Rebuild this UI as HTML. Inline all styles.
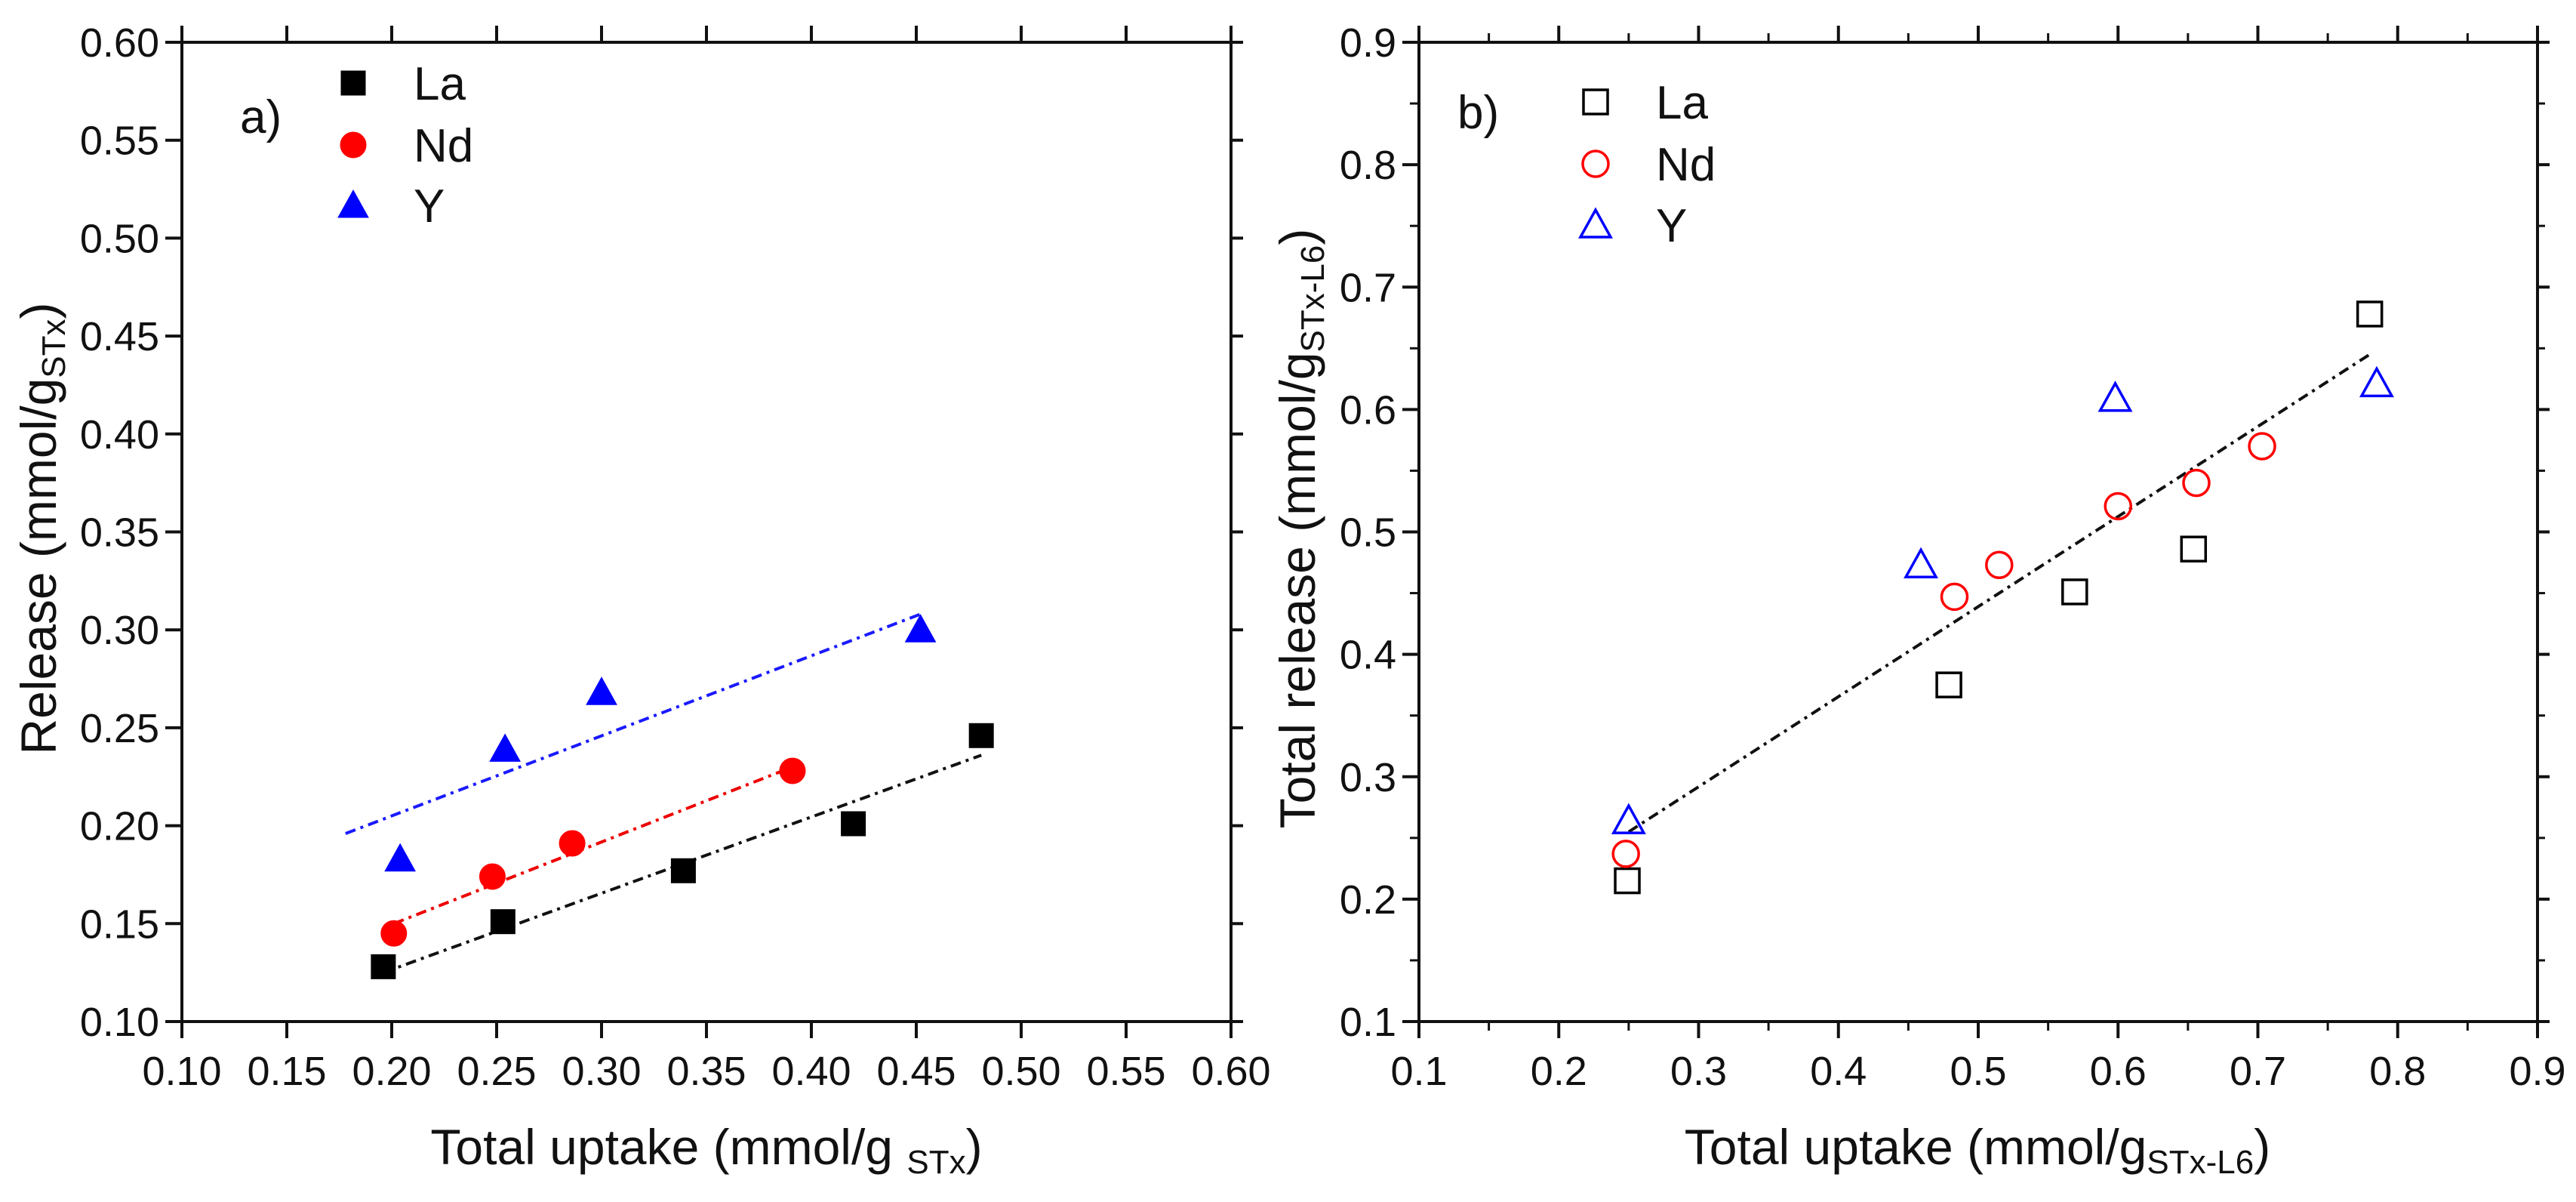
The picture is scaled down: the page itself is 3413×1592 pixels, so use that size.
<!DOCTYPE html>
<html><head><meta charset="utf-8"><style>
html,body{margin:0;padding:0;background:#fff;}
svg text{font-family:"Liberation Sans",Arial,sans-serif;fill:#111;}
</style></head><body>
<svg id="fig" xmlns="http://www.w3.org/2000/svg" width="3413" height="1587" viewBox="0 0 3413 1587"></svg>
<script>
// Panel a data
const aLaX=[0.196,0.253,0.339,0.420,0.481];
const aLaY=[0.128,0.151,0.177,0.201,0.246];
const aNdX=[0.201,0.248,0.286,0.391];
const aNdY=[0.145,0.174,0.191,0.228];
const aYX=[0.204,0.254,0.300,0.452];
const aYY=[0.183,0.239,0.268,0.300];
const aFitLaX=[0.196,0.481]; const aFitLaY=[0.125,0.236];
const aFitNdX=[0.201,0.391]; const aFitNdY=[0.150,0.230];
const aFitYX=[0.178,0.452]; const aFitYY=[0.196,0.308];
const aTicks=[0.10,0.15,0.20,0.25,0.30,0.35,0.40,0.45,0.50,0.55,0.60];
// Panel b data
const bLaX=[0.249,0.479,0.569,0.654,0.780];
const bLaY=[0.215,0.375,0.451,0.486,0.678];
const bNdX=[0.248,0.483,0.515,0.600,0.656,0.703];
const bNdY=[0.237,0.447,0.473,0.521,0.540,0.570];
const bYX=[0.250,0.459,0.598,0.785];
const bYY=[0.264,0.473,0.609,0.621];
const bFitX=[0.25,0.78]; const bFitY=[0.255,0.645];
const bTicks=[0.1,0.2,0.3,0.4,0.5,0.6,0.7,0.8,0.9];

const NS="http://www.w3.org/2000/svg";
const svg=document.getElementById('fig');
function mk(tag,attrs,parent){const e=document.createElementNS(NS,tag);for(const k in attrs)e.setAttribute(k,attrs[k]);(parent||svg).appendChild(e);return e;}

function panel(cfg){
  const g=mk('g',{});
  
  
  const L=cfg.L,R=cfg.R,T=cfg.T,B=cfg.B,lo=cfg.lo,hi=cfg.hi;
  const sx=v=>L+(v-lo)/(hi-lo)*(R-L);
  const sy=v=>B-(v-lo)/(hi-lo)*(B-T);
  const fr=mk('rect',{x:L,y:T,width:R-L,height:B-T,fill:'none',stroke:'#111','stroke-width':4},g);
  
  
  const step=cfg.ticks[1]-cfg.ticks[0];
  cfg.ticks.forEach((t,i)=>{
    const x=sx(t),y=sy(t);
    mk('line',{x1:x,y1:B,x2:x,y2:B+22,stroke:'#111','stroke-width':4},g);
    mk('line',{x1:x,y1:T,x2:x,y2:T-22,stroke:'#111','stroke-width':4},g);
    mk('line',{x1:L,y1:y,x2:L-22,y2:y,stroke:'#111','stroke-width':4},g);
    mk('line',{x1:R,y1:y,x2:R+16,y2:y,stroke:'#111','stroke-width':4},g);
    if(cfg.minor && i<cfg.ticks.length-1){
      const m=t+step/2;
      mk('line',{x1:sx(m),y1:B,x2:sx(m),y2:B+12,stroke:'#111','stroke-width':3},g);
      mk('line',{x1:sx(m),y1:T,x2:sx(m),y2:T-12,stroke:'#111','stroke-width':3},g);
      mk('line',{x1:L,y1:sy(m),x2:L-12,y2:sy(m),stroke:'#111','stroke-width':3},g);
      mk('line',{x1:R,y1:sy(m),x2:R+10,y2:sy(m),stroke:'#111','stroke-width':3},g);
    }
    const lab=t.toFixed(cfg.dec);
    const tx=mk('text',{x:x,y:B+84,'font-size':54,'text-anchor':'middle'},g);
    tx.textContent=lab;
    
    
    const ty=mk('text',{x:L-30,y:y+19,'font-size':54,'text-anchor':'end'},g);
    ty.textContent=lab;
    
    
  });
  cfg.fits.forEach(f=>{
    const ln=mk('line',{x1:sx(f.x[0]),y1:sy(f.y[0]),x2:sx(f.x[1]),y2:sy(f.y[1]),stroke:f.c,'stroke-width':4,'stroke-dasharray':'14,7,4,7'},g);
    
    
  });
  cfg.series.forEach(s=>{
    s.x.forEach((xv,i)=>{
      const m=marker(g,s.shape,sx(xv),sy(s.y[i]),s.c,cfg.filled);
      
      
    });
    const lm=marker(g,s.shape,cfg.legX,s.legY,s.c,cfg.filled);
    
    
    const lt=mk('text',{x:cfg.legX+80,y:s.legY+22,'font-size':62},g);
    lt.textContent=s.label;
    
    
  });
  const pl=mk('text',{x:cfg.tagX,y:cfg.tagY,'font-size':62},g);
  pl.textContent=cfg.tag;
  
  
  return g;
}
function marker(g,shape,x,y,c,filled){
  const fill=filled?c:'none', sw=filled?1:3.5;
  if(shape==='sq') return mk('rect',{x:x-16,y:y-16,width:32,height:32,fill:fill,stroke:c,'stroke-width':sw},g);
  if(shape==='ci') return mk('circle',{cx:x,cy:y,r:17,fill:fill,stroke:c,'stroke-width':sw},g);
  return mk('polygon',{points:`${x},${y-20} ${x-20},${y+16} ${x+20},${y+16}`,fill:fill,stroke:c,'stroke-width':sw},g);
}

panel({name:'panel-a',L:241,R:1631,T:56,B:1353,lo:0.10,hi:0.60,ticks:aTicks,dec:2,minor:false,filled:true,
  fits:[{x:aFitYX,y:aFitYY,c:'#1a1aff'},{x:aFitNdX,y:aFitNdY,c:'#e00'},{x:aFitLaX,y:aFitLaY,c:'#111'}],
  series:[{label:'La',x:aLaX,y:aLaY,c:'#000',shape:'sq',legY:110},
          {label:'Nd',x:aNdX,y:aNdY,c:'#f00',shape:'ci',legY:192},
          {label:'Y',x:aYX,y:aYY,c:'#00f',shape:'tr',legY:272}],
  legX:468,tag:'a)',tagX:318,tagY:176});
panel({name:'panel-b',L:1880,R:3362,T:56,B:1353,lo:0.1,hi:0.9,ticks:bTicks,dec:1,minor:true,filled:false,
  fits:[{x:bFitX,y:bFitY,c:'#111'}],
  series:[{label:'La',x:bLaX,y:bLaY,c:'#000',shape:'sq',legY:135},
          {label:'Nd',x:bNdX,y:bNdY,c:'#f00',shape:'ci',legY:217},
          {label:'Y',x:bYX,y:bYY,c:'#00f',shape:'tr',legY:298}],
  legX:2114,tag:'b)',tagX:1931,tagY:170});
</script>
<svg style="position:absolute;left:0;top:0" width="3413" height="1587">
<text x="936" y="1542" font-size="66" text-anchor="middle" font-family="Liberation Sans, sans-serif">Total uptake (mmol/g <tspan font-size="44" dy="12">STx</tspan><tspan dy="-12">)</tspan></text>
<text transform="translate(74,700) rotate(-90)" font-size="66" text-anchor="middle" font-family="Liberation Sans, sans-serif">Release (mmol/g<tspan font-size="44" dy="12">STx</tspan><tspan dy="-12">)</tspan></text>
<text x="2620" y="1542" font-size="66" text-anchor="middle" font-family="Liberation Sans, sans-serif">Total uptake (mmol/g<tspan font-size="44" dy="12">STx-L6</tspan><tspan dy="-12">)</tspan></text>
<text transform="translate(1742,700) rotate(-90)" font-size="66" text-anchor="middle" font-family="Liberation Sans, sans-serif">Total release (mmol/g<tspan font-size="44" dy="12">STx-L6</tspan><tspan dy="-12">)</tspan></text>
</svg>
</body></html>
